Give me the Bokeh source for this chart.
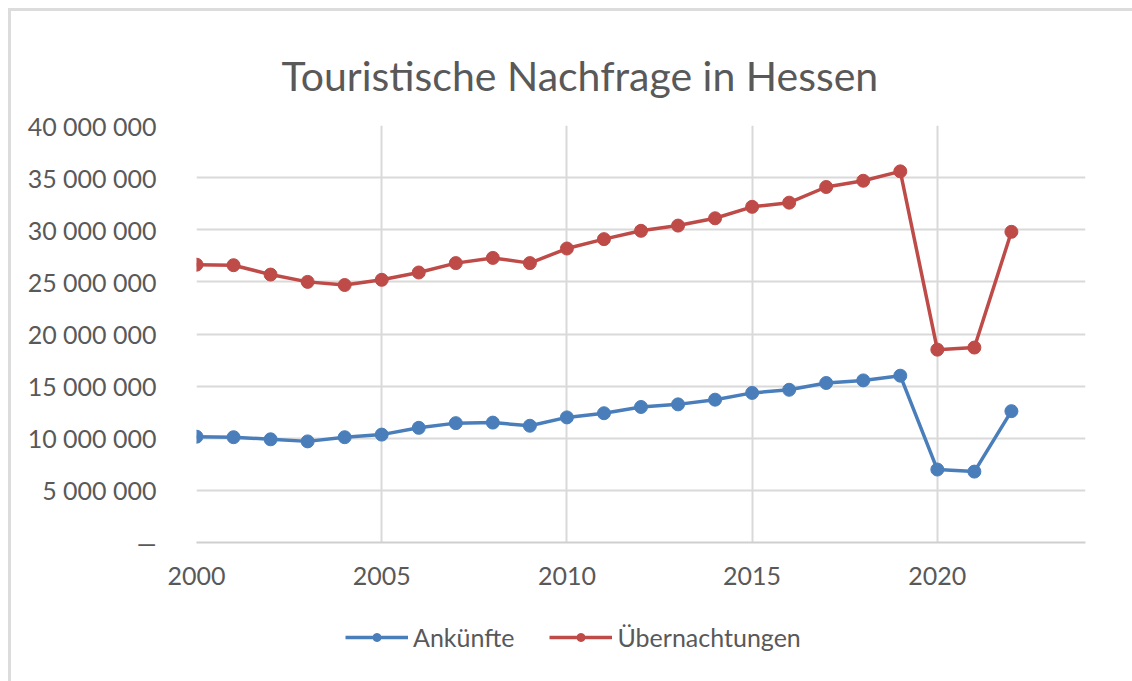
from bokeh.plotting import figure
from bokeh.layouts import column
from bokeh.models import (FixedTicker, Legend, LegendItem, ColumnDataSource)
from bokeh.embed import file_html
from bokeh.resources import INLINE

years = list(range(2000, 2023))
ankuenfte = [10.15, 10.1, 9.9, 9.7, 10.1, 10.35, 11.0, 11.45, 11.5, 11.2, 12.0, 12.4,
             13.0, 13.25, 13.7, 14.35, 14.65, 15.3, 15.55, 16.0, 7.0, 6.8, 12.6]
uebernachtungen = [26.65, 26.6, 25.7, 25.0, 24.7, 25.2, 25.9, 26.8, 27.3, 26.8, 28.2, 29.1,
                   29.9, 30.4, 31.1, 32.2, 32.6, 34.1, 34.7, 35.6, 18.5, 18.7, 29.8]
ankuenfte = [v * 1_000_000 for v in ankuenfte]
uebernachtungen = [v * 1_000_000 for v in uebernachtungen]

y_ticks = [0, 5_000_000, 10_000_000, 15_000_000, 20_000_000, 25_000_000,
           30_000_000, 35_000_000, 40_000_000]
y_tick_labels = ["—", "5 000 000", "10 000 000", "15 000 000", "20 000 000",
                 "25 000 000", "30 000 000", "35 000 000", "40 000 000"]
x_ticks = [2000, 2005, 2010, 2015, 2020]
x_tick_labels = ["2000", "2005", "2010", "2015", "2020"]
title_text = "Touristische Nachfrage in Hessen"
series_names = ["Ankünfte", "Übernachtungen"]

BLUE = "#4a7ebb"
RED = "#be4b48"
TXT = "#595959"
GRID = "#d9d9d9"
FONT = "Lato"

p = figure(width=1121, height=589, output_backend="svg", toolbar_location=None,
           x_range=(2000, 2024), y_range=(0, 40_000_000),
           min_border_left=185, min_border_right=47, min_border_top=114,
           min_border_bottom=58, outline_line_color=None)
p.title.text = title_text
p.title.align = "left"
p.title.offset = 85
p.title.standoff = 52
p.title.text_font = FONT
p.title.text_font_size = "41px"
p.title.text_font_style = "normal"
p.title.text_color = TXT

p.xaxis.ticker = FixedTicker(ticks=x_ticks)
p.xaxis.major_label_overrides = dict(zip(x_ticks, x_tick_labels))
p.yaxis.ticker = FixedTicker(ticks=y_ticks)
p.yaxis.major_label_overrides = dict(zip(y_ticks, y_tick_labels))
for ax in (p.xaxis, p.yaxis):
    ax.major_tick_line_color = None
    ax.minor_tick_line_color = None
    ax.major_label_text_font = FONT
    ax.major_label_text_font_size = "25px"
    ax.major_label_text_color = TXT
p.xaxis.axis_line_color = "#cfcfcf"
p.xaxis.axis_line_width = 2
p.yaxis.axis_line_color = None
p.xaxis.major_label_standoff = 18
p.yaxis.major_label_standoff = 34

p.xgrid.grid_line_color = GRID
p.ygrid.grid_line_color = GRID
p.xgrid.grid_line_width = 2
p.ygrid.grid_line_width = 2

src = ColumnDataSource(dict(x=years, a=ankuenfte, u=uebernachtungen))
p.line("x", "a", source=src, line_color=BLUE, line_width=3.5)
p.scatter("x", "a", source=src, size=13, fill_color=BLUE, line_color=BLUE)
p.line("x", "u", source=src, line_color=RED, line_width=3.5)
p.scatter("x", "u", source=src, size=13, fill_color=RED, line_color=RED)

# legend strip below the chart (its ranges keep the data out of view)
pl = figure(width=1121, height=81, output_backend="svg", toolbar_location=None,
            x_range=(0, 1), y_range=(0, 1), min_border=0, outline_line_color=None)
pl.axis.visible = False
pl.grid.visible = False
la = pl.line("x", "a", source=src, line_color=BLUE, line_width=3.5)
sa = pl.scatter("x", "a", source=src, size=13, fill_color=BLUE, line_color=BLUE)
lu = pl.line("x", "u", source=src, line_color=RED, line_width=3.5)
su = pl.scatter("x", "u", source=src, size=13, fill_color=RED, line_color=RED)
legend = Legend(items=[LegendItem(label=series_names[0], renderers=[la, sa]),
                       LegendItem(label=series_names[1], renderers=[lu, su])],
                orientation="horizontal", location=(149, 29),
                label_text_font=FONT, label_text_font_size="25px",
                label_text_color=TXT, glyph_width=63, glyph_height=20,
                label_standoff=5, spacing=35, border_line_color=None,
                background_fill_alpha=0, padding=0, margin=0)
pl.add_layout(legend)

layout = column(p, pl, spacing=0)
layout.styles = {"border-left": "3px solid #dcdcdc", "border-top": "3px solid #dcdcdc",
                 "margin-left": "8px", "margin-top": "8px"}

open("out.html", "w").write(file_html(layout, INLINE))
